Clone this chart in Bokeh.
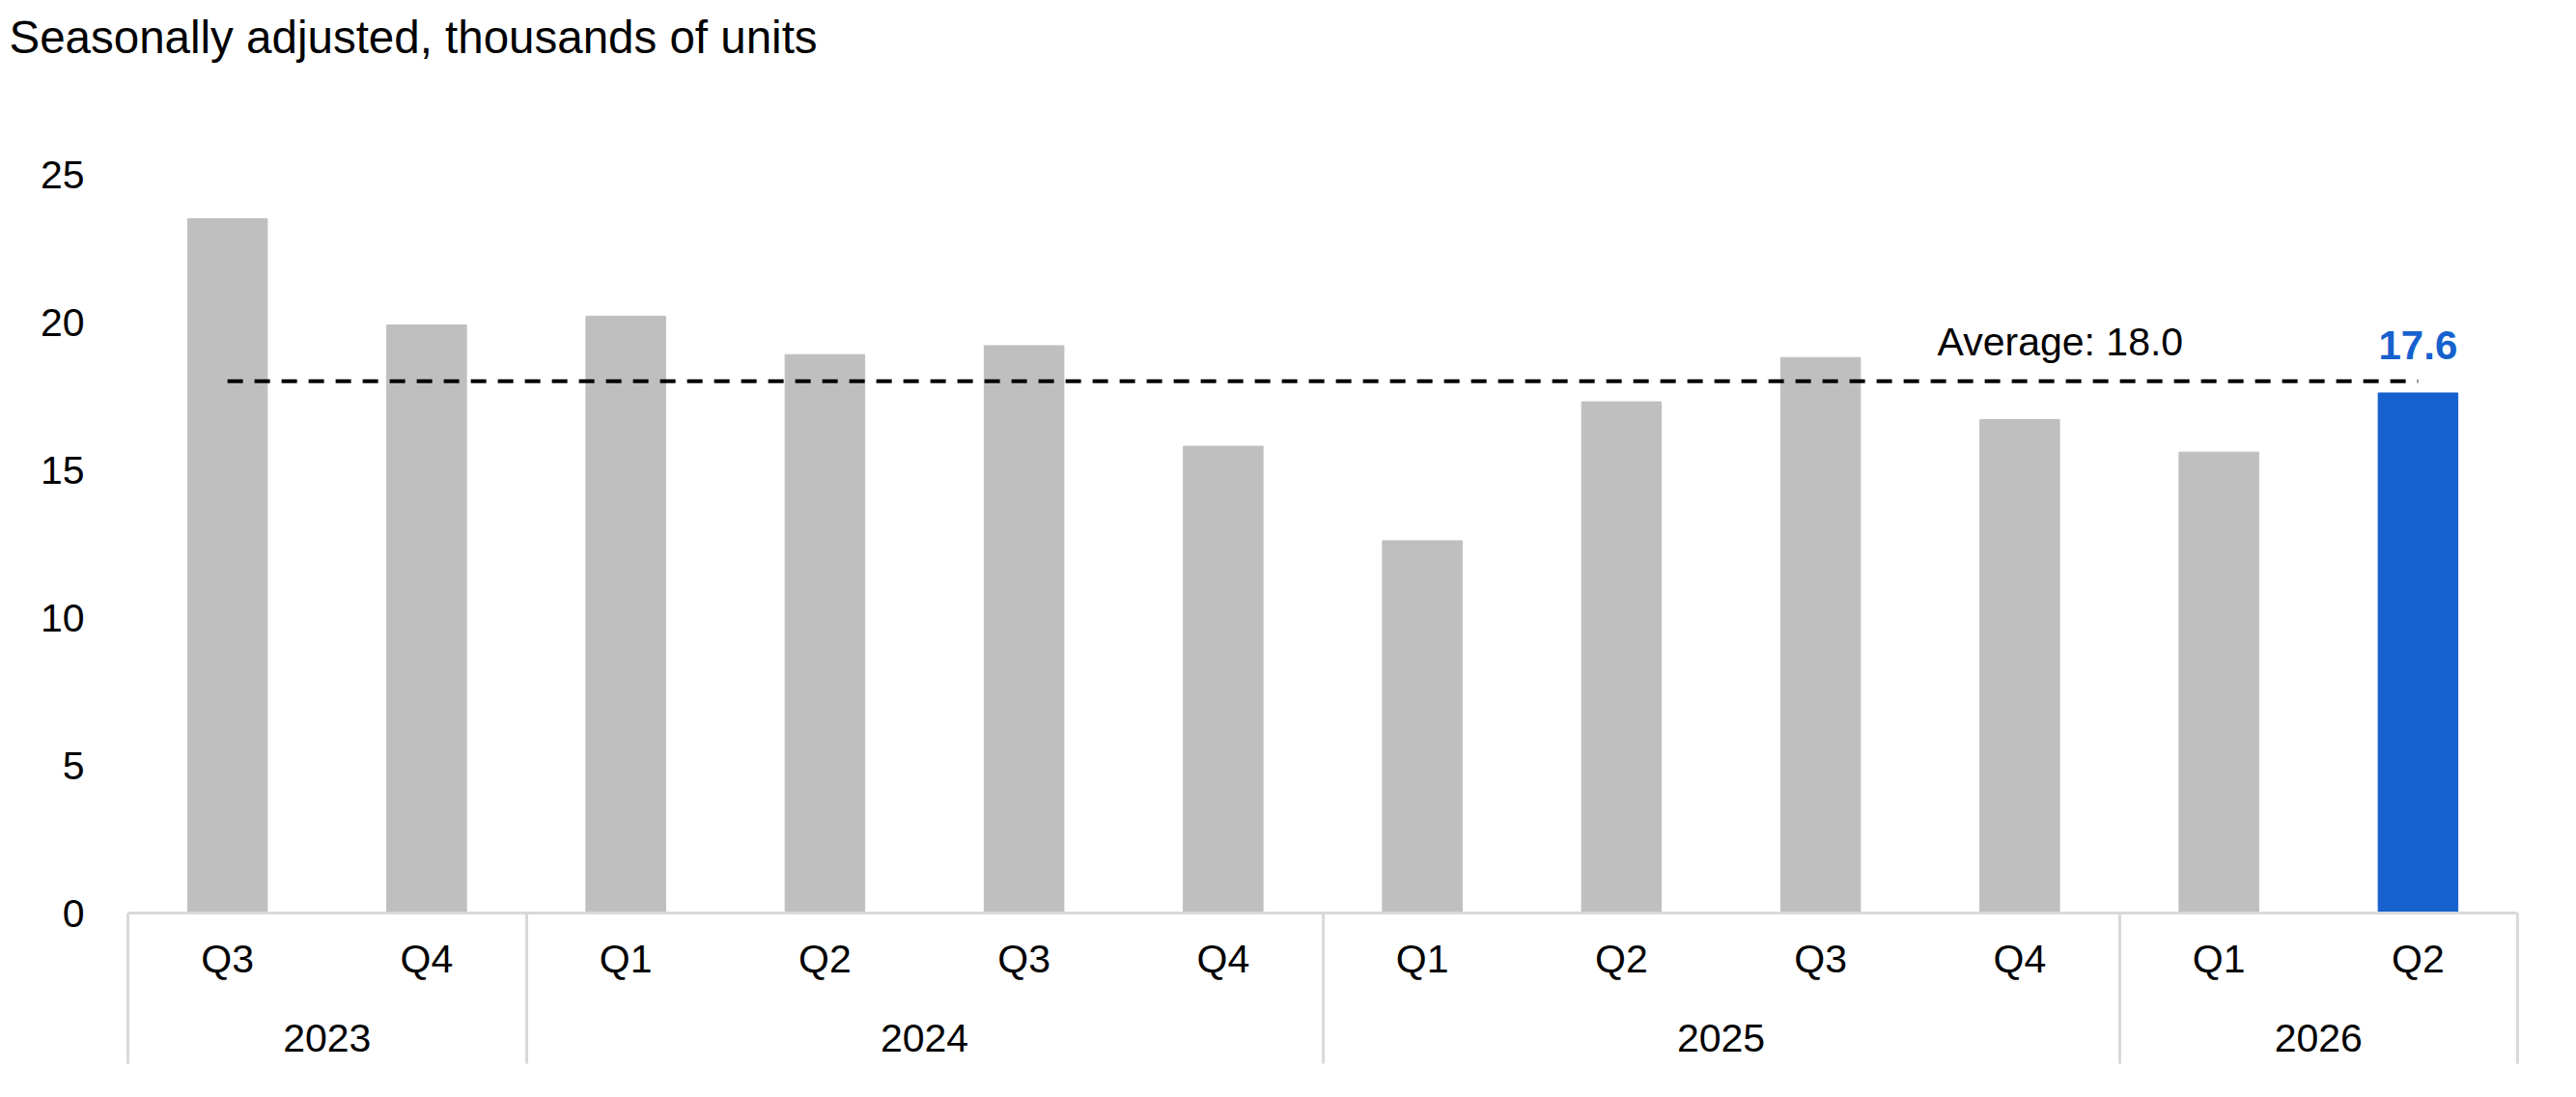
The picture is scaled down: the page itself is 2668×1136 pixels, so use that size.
from bokeh.plotting import figure
from bokeh.models import (ColumnDataSource, FactorRange, Range1d, LinearAxis,
                          FixedTicker, Title)
from bokeh.core.properties import value
from bokeh.embed import file_html
from bokeh.resources import INLINE

# ---- data ----
years = ["2023", "2023", "2024", "2024", "2024", "2024",
         "2025", "2025", "2025", "2025", "2026", "2026"]
quarters = ["Q3", "Q4", "Q1", "Q2", "Q3", "Q4",
            "Q1", "Q2", "Q3", "Q4", "Q1", "Q2"]
units = [23.5, 19.9, 20.2, 18.9, 19.2, 15.8, 12.6, 17.3, 18.8, 16.7, 15.6, 17.6]
average = 18.0
y_ticks = [0, 5, 10, 15, 20, 25]
title_text = "Seasonally adjusted, thousands of units"

GREY = "#BFBFBF"
BLUE = "#1661CE"
LINE_GREY = "#D9D9D9"
FONT = "Liberation Sans"

factors = list(zip(years, quarters))
n = len(factors)
colors = [BLUE if i == n - 1 else GREY for i in range(n)]
source = ColumnDataSource(dict(x=factors, units=units, color=colors))

# positions (synthetic coordinates of the factor range) derived from the categories
q_pos = [i + 0.5 for i in range(n)]
year_order = []
for y in years:
    if y not in year_order:
        year_order.append(y)
year_centers = {}
for y in year_order:
    idx = [i for i, yy in enumerate(years) if yy == y]
    year_centers[(min(idx) + max(idx) + 1) / 2] = y
separators = [0] + [i for i in range(1, n) if years[i] != years[i - 1]] + [n]

x_range = FactorRange(*factors, range_padding=0, group_padding=0,
                      factor_padding=0, subgroup_padding=0)

p = figure(x_range=x_range, y_range=Range1d(0, 25),
           frame_width=2475, frame_height=765, output_backend="svg",
           toolbar_location=None, x_axis_location=None,
           min_border_left=132, min_border_right=61,
           min_border_top=180, min_border_bottom=191)
p.outline_line_color = None
p.xgrid.visible = False
p.ygrid.visible = False
p.background_fill_color = "white"
p.border_fill_color = "white"

# spacer between the frame and the title, then the title itself
p.add_layout(Title(text=" ", text_font_size="10px", standoff=103), "above")
p.add_layout(Title(text=title_text, align="left", offset=-123, standoff=0,
                   text_font=FONT, text_font_size="47.5px",
                   text_font_style="normal", text_color="black"), "above")

# bars
p.vbar(x="x", top="units", width=0.4, color="color", source=source)

# average line
p.line(x=[factors[0], factors[-1]], y=[average, average],
       line_color="black", line_width=4, line_dash="16 12")
p.text(x=[factors[9]], y=[average], text=[f"Average: {average:.1f}"],
       x_offset=42, y_offset=-41, text_align="center",
       text_baseline="alphabetic", text_font=value(FONT),
       text_font_size=value("41px"), text_color="black")

# highlighted value label
p.text(x=[factors[-1]], y=[units[-1]], text=[f"{units[-1]:.1f}"],
       y_offset=-49, text_align="center", text_baseline="alphabetic",
       text_font=value(FONT), text_font_size=value("42px"),
       text_font_style="bold", text_color=BLUE)

# y axis
ya = p.yaxis[0]
ya.ticker = FixedTicker(ticks=y_ticks)
ya.axis_line_color = None
ya.major_tick_line_color = None
ya.minor_tick_line_color = None
ya.major_label_standoff = 39
ya.major_label_text_font = FONT
ya.major_label_text_font_size = "41px"
ya.major_label_text_color = "black"

SEP_LEN = 156
# quarter axis with separators
axq = LinearAxis(ticker=FixedTicker(ticks=q_pos, minor_ticks=separators),
                 bounds=(0, n),
                 major_label_overrides={q: lab for q, lab in zip(q_pos, quarters)},
                 major_tick_line_color=None, major_tick_out=0, major_tick_in=0,
                 minor_tick_out=SEP_LEN, minor_tick_in=0,
                 minor_tick_line_color=LINE_GREY, minor_tick_line_width=3,
                 axis_line_color=LINE_GREY, axis_line_width=3,
                 major_label_standoff=24 - SEP_LEN,
                 major_label_text_font=FONT,
                 major_label_text_font_size="41px",
                 major_label_text_color="black")
p.add_layout(axq, "below")

# year axis
axy = LinearAxis(ticker=FixedTicker(ticks=list(year_centers.keys()), minor_ticks=[]),
                 major_label_overrides=year_centers,
                 major_tick_line_color=None, major_tick_out=0, major_tick_in=0,
                 minor_tick_line_color=None,
                 axis_line_color=None,
                 major_label_standoff=42,
                 major_label_text_font=FONT,
                 major_label_text_font_size="41px",
                 major_label_text_color="black")
p.add_layout(axy, "below")

open("out.html", "w").write(file_html(p, INLINE))
